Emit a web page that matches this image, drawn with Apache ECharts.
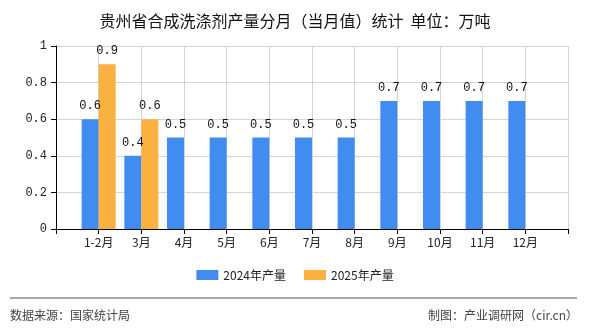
<!DOCTYPE html>
<html>
<head>
<meta charset="utf-8">
<script src="https://cdn.jsdelivr.net/npm/echarts@6/dist/echarts.min.js"></script>
<style>html,body{margin:0;padding:0;background:#fff}#c{width:590px;height:330px}</style>
</head>
<body>
<div id="c"></div>
<script>
var titleText = '贵州省合成洗涤剂产量分月（当月值）统计  单位：万吨';
var categories = ['1-2月','3月','4月','5月','6月','7月','8月','9月','10月','11月','12月'];
var series2024Name = '2024年产量';
var series2025Name = '2025年产量';
var values2024 = [0.6,0.4,0.5,0.5,0.5,0.5,0.5,0.7,0.7,0.7,0.7];
var values2025 = [0.9,0.6];
var yTicks = [0,0.2,0.4,0.6,0.8,1];
var sourceText = '数据来源：国家统计局';
var creditText = '制图：产业调研网（cir.cn）';

var xData = [''].concat(categories).concat(['']);
function pad(vals){ var a=[null].concat(vals); while(a.length<xData.length) a.push(null); return a; }

var monoFont = '"Liberation Mono","Noto Sans CJK SC",monospace';
var cjkFont = '"Noto Sans CJK SC","Liberation Sans",sans-serif';

var chart = echarts.init(document.getElementById('c'));
chart.setOption({
  animation:false,
  title:{text:titleText,left:'center',top:8,textStyle:{fontSize:16,fontWeight:'normal',color:'#111',fontFamily:cjkFont}},
  grid:{left:56,right:22,top:46,bottom:101,containLabel:false},
  legend:{bottom:44,left:'center',itemWidth:22,itemHeight:10,itemGap:18,icon:'rect',
    textStyle:{fontSize:12,color:'#222',fontFamily:cjkFont},
    data:[series2024Name,series2025Name]},
  xAxis:{type:'category',data:xData,boundaryGap:false,
    axisLine:{lineStyle:{color:'#000',width:1}},
    axisTick:{show:true,length:5,interval:0,lineStyle:{color:'#000'}},
    axisLabel:{interval:0,fontSize:12,color:'#222',margin:7,fontFamily:cjkFont},
    splitLine:{show:true,interval:0,lineStyle:{color:'#d4d4d4'}}},
  yAxis:{type:'value',min:yTicks[0],max:yTicks[yTicks.length-1],interval:0.2,
    axisLine:{show:true,lineStyle:{color:'#000'}},
    axisTick:{show:true,length:5,lineStyle:{color:'#000'}},
    axisLabel:{fontSize:12,color:'#222',margin:9,fontFamily:monoFont},
    splitLine:{show:true,lineStyle:{color:'#d4d4d4'}}},
  series:[
    {name:series2024Name,type:'bar',data:pad(values2024),barWidth:17,barGap:'0%',
     itemStyle:{color:'#418cf0'},
     label:{show:true,position:'top',distance:7,fontSize:12,color:'#111',fontFamily:monoFont}},
    {name:series2025Name,type:'bar',data:pad(values2025),barWidth:17,barGap:'0%',
     itemStyle:{color:'#fbb13f'},
     label:{show:true,position:'top',distance:7,fontSize:12,color:'#111',fontFamily:monoFont}}
  ],
  graphic:[
    {type:'line',shape:{x1:10,y1:298,x2:577,y2:298},style:{stroke:'#888',lineWidth:1.5}},
    {type:'text',left:10,top:309,style:{text:sourceText,fontSize:12,fill:'#444',fontFamily:cjkFont}},
    {type:'text',right:12,top:309,style:{text:creditText,fontSize:12,fill:'#444',fontFamily:cjkFont}}
  ]
});
</script>
</body>
</html>
